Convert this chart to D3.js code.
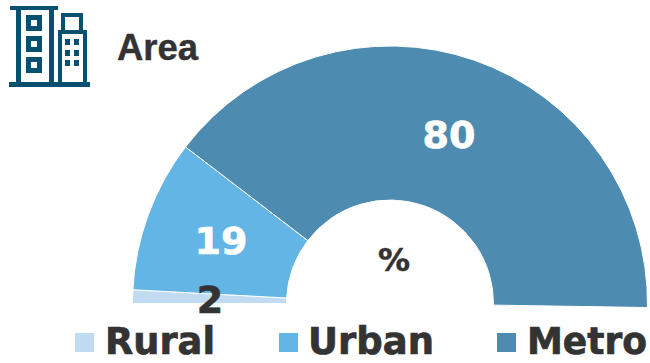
<!DOCTYPE html>
<html><head><meta charset="utf-8">
<script src="https://cdn.jsdelivr.net/npm/d3@7"></script>
<style>html,body{margin:0;padding:0;background:#fff}svg{display:block}</style>
</head><body>
<svg id="c" width="650" height="363"></svg>
<script>
const categories = ["Rural", "Urban", "Metro"];
const values = [1.7, 19.1, 79.7];
const colors = ["#c1dbf3", "#62b5e5", "#4d8bb0"];
const titleText = "Area";
const unitText = "%";

const svg = d3.select("#c");
const textColor = "#333333";
const cx = 390, cy = 303.5, outerR = 257.5, innerR = 103.5;

// half-circle gauge: 100% spans 180 degrees
const angle = d3.scaleLinear().domain([0, 100]).range([0, Math.PI]);
const start = -Math.PI / 2;
const pie = d3.pie().sort(null).value(d => d.v).startAngle(start).endAngle(start + angle(d3.sum(values)));
const arc = d3.arc().innerRadius(innerR).outerRadius(outerR);
const data = pie(categories.map((c, i) => ({c, v: values[i], col: colors[i]})));

const g = svg.append("g").attr("transform", `translate(${cx},${cy})`);
g.selectAll("path").data(data).join("path")
  .attr("d", arc).attr("fill", d => d.data.col)
  .attr("stroke", "#fff").attr("stroke-width", 1);

const labelPos = [[210, 300], [221, 241], [449, 135]];
svg.selectAll("text.val").data(data).join("text").attr("class", "val")
  .attr("x", (d, i) => labelPos[i][0]).attr("y", (d, i) => labelPos[i][1])
  .attr("text-anchor", "middle").attr("dominant-baseline", "central")
  .attr("font-family", "DejaVu Sans").attr("font-weight", "bold").attr("font-size", 38)
  .attr("fill", (d, i) => i === 0 ? textColor : "#fff")
  .attr("stroke", (d, i) => i === 0 ? textColor : "#fff").attr("stroke-width", 0.7)
  .text(d => d3.format(".0f")(d.data.v));

svg.append("text").attr("x", 394).attr("y", 260).attr("text-anchor", "middle")
  .attr("dominant-baseline", "central").attr("font-family", "DejaVu Sans").attr("font-weight", "bold")
  .attr("font-size", 32).attr("fill", textColor).attr("stroke", textColor).attr("stroke-width", 0.5).text(unitText);

svg.append("text").attr("x", 117).attr("y", 60).attr("font-family", "Liberation Sans")
  .attr("font-weight", "bold").attr("font-size", 36.5).attr("fill", textColor)
  .attr("stroke", textColor).attr("stroke-width", 0.4).text(titleText);

// legend
const legX = [75, 279, 497], textX = [105, 308, 527], textW = [110, 126, 120];
const leg = svg.selectAll("g.leg").data(categories).join("g").attr("class", "leg");
leg.append("rect").attr("x", (d, i) => legX[i]).attr("y", 333).attr("width", 19).attr("height", 19)
  .attr("fill", (d, i) => colors[i]);
leg.append("text").attr("x", (d, i) => textX[i]).attr("y", 354)
  .attr("textLength", (d, i) => textW[i]).attr("lengthAdjust", "spacingAndGlyphs")
  .attr("font-family", "DejaVu Sans").attr("font-weight", "bold").attr("font-size", 37)
  .attr("fill", textColor).attr("stroke", textColor).attr("stroke-width", 0.7).text(d => d);

// building icon
const icon = svg.append("g").attr("fill", "#07506f");
const rects = [
  [10, 6, 48, 4], [16, 8, 5, 76], [49, 8, 5, 76], [9, 82, 81, 5],
  [26, 15, 16, 16], [26, 36, 16, 16], [26, 57, 16, 16],
  [61, 13, 22, 4], [61, 13, 4, 20], [79, 13, 4, 20],
  [58, 30, 29, 4], [58, 30, 4, 54], [83, 30, 4, 54],
  [65, 39, 5, 6], [74, 39, 5, 6], [65, 50, 5, 6], [74, 50, 5, 6], [65, 60, 5, 6], [74, 60, 5, 6]
];
icon.selectAll("rect").data(rects).join("rect")
  .attr("x", d => d[0]).attr("y", d => d[1]).attr("width", d => d[2]).attr("height", d => d[3]);
icon.selectAll("rect.h").data([[31, 20], [31, 41], [31, 62]]).join("rect").attr("class", "h")
  .attr("x", d => d[0]).attr("y", d => d[1]).attr("width", 6).attr("height", 6).attr("fill", "#fff");
</script>
</body></html>
